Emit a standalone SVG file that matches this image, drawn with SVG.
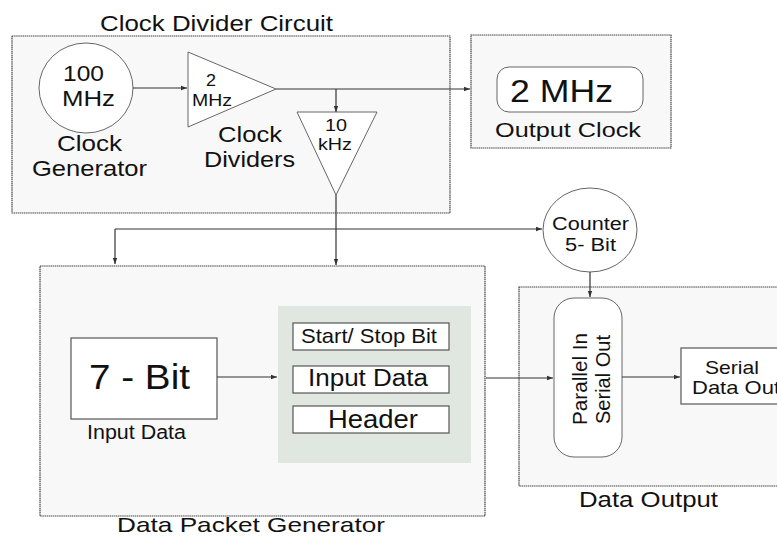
<svg xmlns="http://www.w3.org/2000/svg" width="777" height="537" viewBox="0 0 777 537">
<style>
text{font-family:"Liberation Sans",Arial,sans-serif;fill:#111}
.frame{fill:#f8f8f8;stroke:#444;stroke-width:1.2;stroke-dasharray:1.5 0.6}
.shape{fill:#fff;stroke:#666;stroke-width:1}
.box{fill:#fff;stroke:#555;stroke-width:1.2}
.wire{fill:none;stroke:#333;stroke-width:1.2}
</style>
<defs>
<marker id="ah" markerWidth="6" markerHeight="6" refX="6" refY="3" orient="auto" markerUnits="userSpaceOnUse">
<path d="M0,0.8 L6,3 L0,5.2 Z" fill="#333"/>
</marker>
</defs>
<rect width="777" height="537" fill="#fff"/>

<g id="clock-divider-circuit">
<rect class="frame" x="12" y="36" width="438" height="177"/>
<text x="100" y="31" font-size="22" textLength="233" lengthAdjust="spacingAndGlyphs">Clock Divider Circuit</text>
</g>
<g id="clock-generator">
<ellipse class="shape" cx="86" cy="88" rx="47" ry="45"/>
<text x="63" y="81" font-size="22" textLength="41" lengthAdjust="spacingAndGlyphs">100</text>
<text x="62" y="106" font-size="22" textLength="53" lengthAdjust="spacingAndGlyphs">MHz</text>
<text x="57" y="151" font-size="22" textLength="65" lengthAdjust="spacingAndGlyphs">Clock</text>
<text x="32" y="176" font-size="22" textLength="115" lengthAdjust="spacingAndGlyphs">Generator</text>
</g>
<g id="divider-2mhz">
<polygon class="shape" points="188,52 188,127 276,89"/>
<text x="206" y="86" font-size="17" textLength="10" lengthAdjust="spacingAndGlyphs">2</text>
<text x="192" y="106" font-size="17" textLength="40" lengthAdjust="spacingAndGlyphs">MHz</text>
<text x="218" y="142" font-size="22" textLength="64" lengthAdjust="spacingAndGlyphs">Clock</text>
<text x="204" y="167" font-size="22" textLength="91" lengthAdjust="spacingAndGlyphs">Dividers</text>
</g>
<g id="divider-10khz">
<polygon class="shape" points="297,112 377,112 336,195"/>
<text x="325" y="131" font-size="16" textLength="22" lengthAdjust="spacingAndGlyphs">10</text>
<text x="318" y="150" font-size="16" textLength="34" lengthAdjust="spacingAndGlyphs">kHz</text>
</g>
<g id="output-clock">
<rect class="frame" x="471" y="35" width="200" height="113"/>
<rect class="shape" x="497" y="67" width="146" height="45" rx="12"/>
<text x="510" y="102" font-size="31" textLength="103" lengthAdjust="spacingAndGlyphs">2 MHz</text>
<text x="495" y="137" font-size="20" textLength="146" lengthAdjust="spacingAndGlyphs">Output Clock</text>
</g>
<g id="counter">
<ellipse class="shape" cx="590" cy="230" rx="47" ry="42"/>
<text x="552" y="230" font-size="18" textLength="77" lengthAdjust="spacingAndGlyphs">Counter</text>
<text x="565" y="251" font-size="18" textLength="51" lengthAdjust="spacingAndGlyphs">5- Bit</text>
</g>
<g id="data-packet-generator">
<rect class="frame" x="40" y="266" width="445" height="250"/>
<text x="117" y="532" font-size="21" textLength="268" lengthAdjust="spacingAndGlyphs">Data Packet Generator</text>
</g>
<g id="input-data">
<rect class="box" x="71" y="338" width="146" height="81"/>
<text x="89" y="389" font-size="35" textLength="101" lengthAdjust="spacingAndGlyphs">7 - Bit</text>
<text x="87" y="439" font-size="20" textLength="99" lengthAdjust="spacingAndGlyphs">Input Data</text>
</g>
<g id="packet">
<rect x="278" y="306" width="193" height="157" fill="#e0e6e0"/>
<rect class="box" x="293" y="323" width="156" height="27"/>
<text x="301" y="343" font-size="21" textLength="136" lengthAdjust="spacingAndGlyphs">Start/ Stop Bit</text>
<rect class="box" x="293" y="366" width="156" height="27"/>
<text x="308" y="386" font-size="23" textLength="120" lengthAdjust="spacingAndGlyphs">Input Data</text>
<rect class="box" x="293" y="406" width="156" height="27"/>
<text x="328" y="428" font-size="25" textLength="90" lengthAdjust="spacingAndGlyphs">Header</text>
</g>
<g id="data-output">
<rect class="frame" x="519" y="287" width="270" height="199"/>
<text x="579" y="507" font-size="22" textLength="139" lengthAdjust="spacingAndGlyphs">Data Output</text>
</g>
<g id="piso">
<rect class="shape" x="554" y="298" width="68" height="159" rx="20"/>
<g transform="translate(587,379) rotate(-90)">
<text x="-46" y="0" font-size="20" textLength="92" lengthAdjust="spacingAndGlyphs">Parallel In</text>
<text x="-45" y="23" font-size="20" textLength="89" lengthAdjust="spacingAndGlyphs">Serial Out</text>
</g>
</g>
<g id="serial-data-out">
<rect class="box" x="681" y="348" width="110" height="56"/>
<text x="705" y="374" font-size="19" textLength="54" lengthAdjust="spacingAndGlyphs">Serial</text>
<text x="692" y="394" font-size="19" textLength="88" lengthAdjust="spacingAndGlyphs">Data Out</text>
</g>

<g id="connectors">
<line class="wire" x1="133" y1="88" x2="187" y2="88" marker-end="url(#ah)"/>
<line class="wire" x1="276" y1="89" x2="470" y2="89" marker-end="url(#ah)"/>
<line class="wire" x1="336" y1="89" x2="336" y2="112" marker-end="url(#ah)"/>
<line class="wire" x1="336" y1="195" x2="336" y2="265" marker-end="url(#ah)"/>
<line class="wire" x1="115" y1="229" x2="542" y2="229" marker-end="url(#ah)"/>
<line class="wire" x1="115" y1="229" x2="115" y2="264" marker-end="url(#ah)"/>
<line class="wire" x1="590" y1="272" x2="590" y2="297" marker-end="url(#ah)"/>
<line class="wire" x1="217" y1="377" x2="277" y2="377" marker-end="url(#ah)"/>
<line class="wire" x1="486" y1="378" x2="553" y2="378" marker-end="url(#ah)"/>
<line class="wire" x1="622" y1="377" x2="680" y2="377" marker-end="url(#ah)"/>
</g>
</svg>
